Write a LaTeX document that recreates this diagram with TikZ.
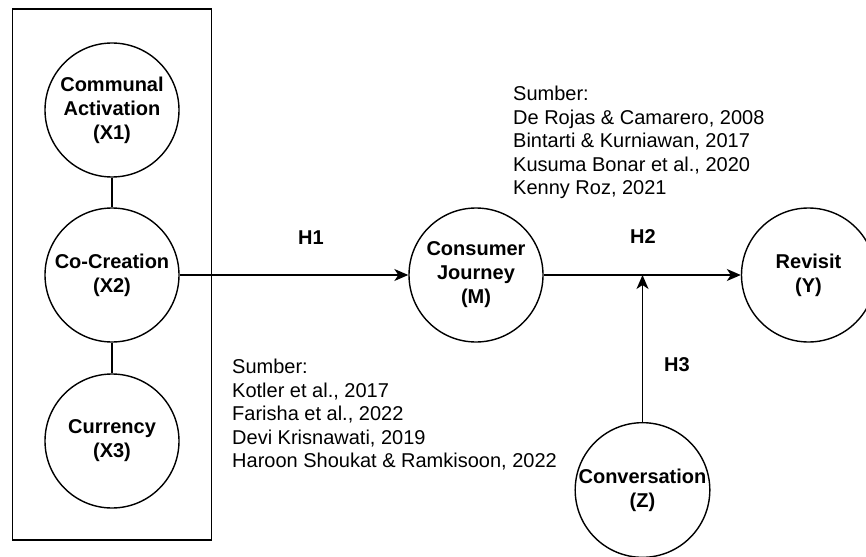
\documentclass[tikz,border=0pt]{standalone}
\usepackage{fontspec}
\setmainfont{Liberation Sans}
\usetikzlibrary{arrows.meta,calc}
\definecolor{ink}{HTML}{000000}
\newcommand{\ColX}{112}
\newcommand{\MainY}{275}
\newcommand{\VarR}{134pt}

\begin{document}
\begin{tikzpicture}[
    x=1pt, y=-1pt, ink,
    font=\fontsize{20}{23.5}\selectfont,
    edge/.style={-{Stealth[length=14pt, width=12pt, inset=4pt]}, line width=1.4pt, draw=ink},
    tie/.style={line width=1.4pt, draw=ink},
    varnode/.style={circle, draw=ink, line width=1.4pt, fill=white, minimum size=\VarR, inner sep=0pt, align=center, font=\fontsize{20}{24}\selectfont\bfseries},
    hyp/.style={font=\fontsize{20}{24}\selectfont\bfseries, inner sep=0pt},
    srcnote/.style={anchor=north west, align=left, inner sep=0pt},
  ]
\useasboundingbox (0,0) rectangle (866,556);

% --- Independent variables in their frame ------------------------------------
\node[draw=ink, line width=1.4pt, minimum width=199pt, minimum height=531pt, inner sep=0pt] (frame) at (112.2, 274.5) {};
\node[varnode] (x1) at (\ColX, 110) {Communal\\Activation\\(X1)};
\node[varnode] (x2) at (\ColX, \MainY) {Co-Creation\\(X2)};
\node[varnode] (x3) at (\ColX, 441) {Currency\\(X3)};
\draw[tie] (x1) -- (x2);
\draw[tie] (x2) -- (x3);

% --- Mediator, outcome and moderator -----------------------------------------
\node[varnode] (cj) at (476, \MainY) {Consumer\\Journey\\(M)};
\node[varnode] (rv) at (808.5, \MainY) {Revisit\\(Y)};
\node[varnode] (cz) at (642.5, 490) {Conversation\\(Z)};
\coordinate (mod) at (cz |- cj);

% --- Paths -----------------------------------------------------------------------
\draw[edge] (x2) -- (cj);
\draw[edge] (cj) -- (rv);
\draw[edge] (cz) -- (mod);
\node[hyp] (h1) at (311, 238) {H1};
\node[hyp] (h2) at (643, 237) {H2};
\node[hyp] (h3) at (677, 365) {H3};

% --- Sources -----------------------------------------------------------------------
\node[srcnote] (srcup) at (513, 86)
  {Sumber:\\
   De Rojas \& Camarero, 2008\\
   Bintarti \& Kurniawan, 2017\\
   Kusuma Bonar et al., 2020\\
   Kenny Roz, 2021};
\node[srcnote] (srclow) at (232, 359)
  {Sumber:\\
   Kotler et al., 2017\\
   Farisha et al., 2022\\
   Devi Krisnawati, 2019\\
   Haroon Shoukat \& Ramkisoon, 2022};

\end{tikzpicture}
\end{document}
